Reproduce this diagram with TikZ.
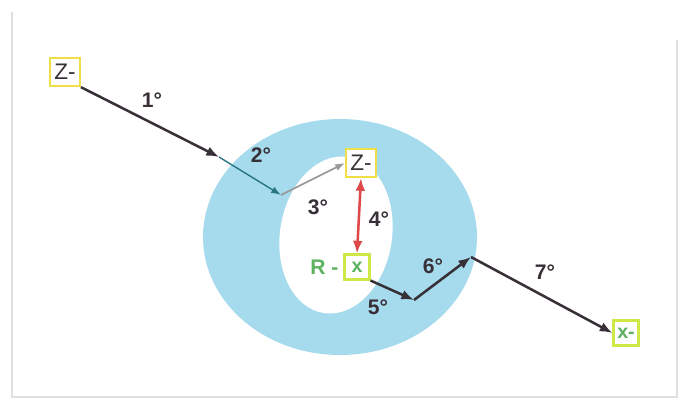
\documentclass[tikz,border=0pt]{standalone}
\usepackage{fontspec}
\setmainfont{Liberation Sans}
\usetikzlibrary{arrows.meta,positioning}

\definecolor{ringblue}{RGB}{166,219,238}
\definecolor{boxyellow}{RGB}{240,222,70}
\definecolor{boxgreen}{RGB}{208,232,70}
\definecolor{textgreen}{RGB}{92,178,96}
\definecolor{arrowdark}{RGB}{55,48,55}
\definecolor{arrowred}{RGB}{222,72,72}
\definecolor{arrowteal}{RGB}{40,118,132}

\begin{document}
\begin{tikzpicture}[
  x=0.025cm, y=-0.025cm,
  zbox/.style={draw=boxyellow, line width=1.6pt, fill=white, inner sep=2pt,
    minimum width=0.74cm, minimum height=0.7cm, font=\fontsize{16}{18}\selectfont, text=arrowdark},
  xbox/.style={draw=boxgreen, line width=1.6pt, fill=white, inner sep=2pt,
    minimum width=0.62cm, minimum height=0.62cm, font=\fontsize{14}{16}\selectfont\bfseries, text=textgreen},
  lbl/.style={font=\fontsize{15}{17}\selectfont\bfseries, text=arrowdark},
  step line/.style={draw=arrowdark, line width=1.8pt},
  >={Latex[length=9pt,width=7pt]}
]
  \useasboundingbox (0,0) rectangle (680,404);
  % frame
  \draw[black!12, line width=0.8pt] (12,12) -- (12,397) -- (677,397) -- (677,40);

  % ring
  \fill[ringblue] (340,237) ellipse [x radius=137, y radius=118];
  \fill[white, rotate around={-9:(336,235)}] (336,235) ellipse [x radius=56, y radius=79];

  % Boxes
  \node[zbox] (Za) at (65,72) {Z-};
  \node[zbox] (Zb) at (361,163) {Z-};
  \node[xbox] (Rx) at (357,267) {x};
  \node[left=0pt of Rx, font=\fontsize{15}{17}\selectfont\bfseries, text=textgreen] (R) {R -};
  \node[xbox] (Xa) at (626,333) {x-};

  % Turning points
  \coordinate (p1) at (219,157);
  \coordinate (p2) at (281,195);
  \coordinate (p3) at (414,300);
  \coordinate (p4) at (471,257);

  % Steps
  \draw[->, step line] (Za.south east) -- (p1);
  \draw[-{Latex[length=7pt,width=5pt]}, draw=arrowteal, line width=1pt] (p1) -- (p2);
  \draw[-{Latex[length=7pt,width=5pt]}, draw=black!40, line width=1.2pt] (p2) -- (Zb.west);
  \draw[<->, draw=arrowred, line width=1.8pt] (Zb.south) -- (Rx.north);
  \draw[->, step line] (Rx.south east) -- (p3);
  \draw[->, step line] (p3) -- (p4);
  \draw[->, step line] (p4) -- (Xa.west);

  % Labels
  \node[lbl] (s1) at (152,100) {1°};
  \node[lbl] (s2) at (261,155) {2°};
  \node[lbl] (s3) at (318,207) {3°};
  \node[lbl] (s4) at (379,219) {4°};
  \node[lbl] (s5) at (378,307) {5°};
  \node[lbl] (s6) at (433,266) {6°};
  \node[lbl] (s7) at (545,272) {7°};
\end{tikzpicture}
\end{document}
